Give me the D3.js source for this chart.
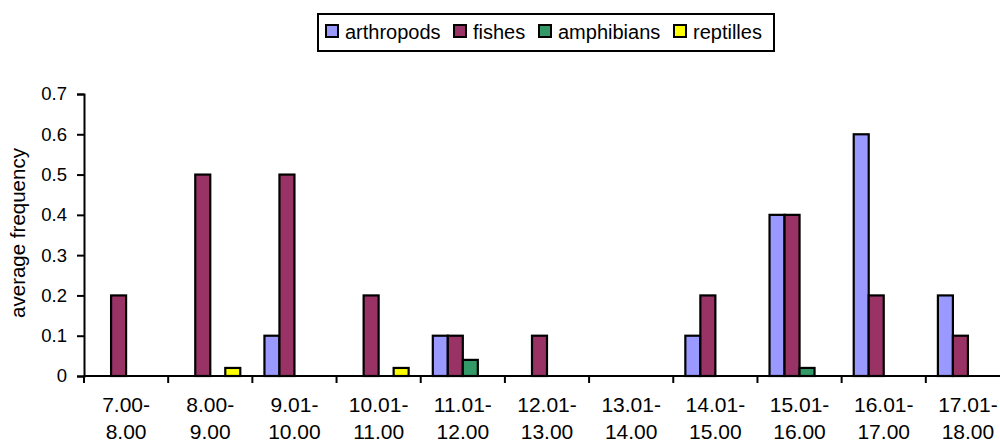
<!DOCTYPE html>
<html>
<head>
<meta charset="utf-8">
<script src="https://cdn.jsdelivr.net/npm/d3@7"></script>
<style>
  html, body { margin: 0; padding: 0; background: #fff; }
  svg { display: block; font-family: "Liberation Sans", Arial, sans-serif; }
</style>
</head>
<body>
<svg id="chart" width="1000" height="443"></svg>
<script>
// Time intervals (two-line labels)
const categories = [
  ["7.00-", "8.00"], ["8.00-", "9.00"], ["9.01-", "10.00"], ["10.01-", "11.00"],
  ["11.01-", "12.00"], ["12.01-", "13.00"], ["13.01-", "14.00"], ["14.01-", "15.00"],
  ["15.01-", "16.00"], ["16.01-", "17.00"], ["17.01-", "18.00"]
];
const seriesNames = ["arthropods", "fishes", "amphibians", "reptilles"];
const seriesColors = ["#9999FF", "#993366", "#339966", "#FFFF00"];

// Average frequency per interval
const arthropods = [0, 0, 0.1, 0, 0.1, 0, 0, 0.1, 0.4, 0.6, 0.2];
const fishes     = [0.2, 0.5, 0.5, 0.2, 0.1, 0.1, 0, 0.2, 0.4, 0.2, 0.1];
const amphibians = [0, 0, 0, 0, 0.04, 0, 0, 0, 0.02, 0, 0];
const reptilles  = [0, 0.02, 0, 0.02, 0, 0, 0, 0, 0, 0, 0];
const yTicks = [0, 0.1, 0.2, 0.3, 0.4, 0.5, 0.6, 0.7];

const seriesValues = [arthropods, fishes, amphibians, reptilles];
const catKeys = categories.map(c => c.join(" "));

const svg = d3.select("#chart");

const x0 = d3.scaleBand().domain(catKeys).range([84, 1010]).padding(0);
const groupWidth = x0.bandwidth() * 0.713;
const x1 = d3.scaleBand().domain(seriesNames).range([0, groupWidth]).padding(0);
const groupOffset = (x0.bandwidth() - groupWidth) / 2;
const y = d3.scaleLinear().domain([0, 0.7]).range([376, 94]);

// Bars
const bars = [];
seriesNames.forEach((s, si) => {
  seriesValues[si].forEach((v, ci) => {
    if (v > 0) bars.push({ s, si, cat: catKeys[ci], v });
  });
});

svg.append("g").selectAll("rect").data(bars).join("rect")
  .attr("x", d => x0(d.cat) + groupOffset + x1(d.s))
  .attr("y", d => y(d.v))
  .attr("width", x1.bandwidth())
  .attr("height", d => y(0) - y(d.v))
  .attr("fill", d => seriesColors[d.si])
  .attr("stroke", "#000")
  .attr("stroke-width", 2.2);

// Y axis
const yAxis = svg.append("g").attr("transform", "translate(84,0)")
  .call(d3.axisLeft(y).tickValues(yTicks).tickFormat(d3.format("")).tickSizeOuter(0).tickSize(7).tickPadding(10));
yAxis.select(".domain").attr("stroke", "#000").attr("stroke-width", 2);
yAxis.selectAll(".tick line").attr("stroke", "#000").attr("stroke-width", 2);
yAxis.selectAll(".tick text").attr("font-size", 18.5).attr("fill", "#000")
  .attr("font-family", "Liberation Sans, Arial, sans-serif");

// X axis line with boundary ticks
const xAxisG = svg.append("g");
xAxisG.append("line")
  .attr("x1", 84).attr("x2", 1000).attr("y1", y(0)).attr("y2", y(0))
  .attr("stroke", "#000").attr("stroke-width", 2);
const boundaries = catKeys.map(k => x0(k)).concat([x0(catKeys[catKeys.length - 1]) + x0.bandwidth()]);
xAxisG.selectAll("line.tk").data(boundaries).join("line")
  .attr("class", "tk")
  .attr("x1", d => d).attr("x2", d => d)
  .attr("y1", y(0)).attr("y2", y(0) + 7)
  .attr("stroke", "#000").attr("stroke-width", 2);

// X labels
const xl = svg.append("g").selectAll("text").data(categories).join("text")
  .attr("x", (d, i) => x0(catKeys[i]) + x0.bandwidth() / 2)
  .attr("y", 412)
  .attr("text-anchor", "middle")
  .attr("font-size", 21)
  .attr("fill", "#000");
xl.append("tspan").attr("x", (d, i) => x0(catKeys[i]) + x0.bandwidth() / 2).text(d => d[0]);
xl.append("tspan").attr("x", (d, i) => x0(catKeys[i]) + x0.bandwidth() / 2).attr("dy", 27).text(d => d[1]);

// Y title
svg.append("text")
  .attr("transform", "translate(25,233) rotate(-90)")
  .attr("text-anchor", "middle")
  .attr("font-size", 20.5)
  .attr("fill", "#000")
  .text("average frequency");

// Legend
const legend = svg.append("g");
legend.append("rect")
  .attr("x", 318).attr("y", 14).attr("width", 456).attr("height", 37)
  .attr("fill", "#fff").attr("stroke", "#000").attr("stroke-width", 2);
const legendX = [326, 454, 539, 674];
const li = legend.selectAll("g.item").data(seriesNames).join("g")
  .attr("class", "item")
  .attr("transform", (d, i) => `translate(${legendX[i]},0)`);
li.append("rect")
  .attr("x", 0).attr("y", 25).attr("width", 12).attr("height", 12)
  .attr("fill", (d, i) => seriesColors[i])
  .attr("stroke", "#000").attr("stroke-width", 2);
li.append("text")
  .attr("x", 19).attr("y", 38.5)
  .attr("font-size", 20)
  .attr("fill", "#000")
  .text(d => d);
</script>
</body>
</html>
